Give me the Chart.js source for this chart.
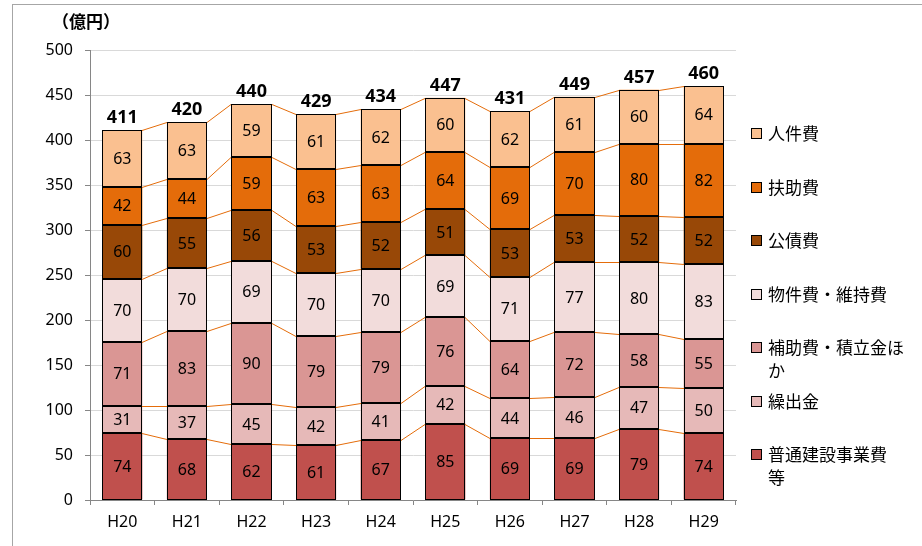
<!DOCTYPE html>
<html>
<head>
<meta charset="utf-8">
<script src="https://cdn.jsdelivr.net/npm/chart.js@4/dist/chart.umd.min.js"></script>
<style>
  html, body { margin: 0; padding: 0; background: #fff; overflow: hidden; }
  #wrap { position: relative; width: 922px; height: 546px; }
  #frame { position: absolute; left: 12px; top: 4px; width: 940px; height: 560px; border: 1px solid #a6a6a6; box-sizing: border-box; }
  canvas { position: absolute; left: 0; top: 0; }
</style>
</head>
<body>
<div id="wrap">
  <div id="frame"></div>
  <canvas id="costChart" width="922" height="546"></canvas>
</div>
<script>
// Categories (fiscal years) and series, bottom of stack first
const years = ['H20', 'H21', 'H22', 'H23', 'H24', 'H25', 'H26', 'H27', 'H28', 'H29'];
const construction = [74, 68, 62, 61, 67, 85, 69, 69, 79, 74]; // 普通建設事業費等
const transfers = [31, 37, 45, 42, 41, 42, 44, 46, 47, 50];    // 繰出金
const subsidies = [71, 83, 90, 79, 79, 76, 64, 72, 58, 55];    // 補助費・積立金ほか
const supplies = [70, 70, 69, 70, 70, 69, 71, 77, 80, 83];     // 物件費・維持費
const debt = [60, 55, 56, 53, 52, 51, 53, 53, 52, 52];         // 公債費
const welfare = [42, 44, 59, 63, 63, 64, 69, 70, 80, 82];      // 扶助費
const personnel = [63, 63, 59, 61, 62, 60, 62, 61, 60, 64];    // 人件費
const totals = [411, 420, 440, 429, 434, 447, 431, 449, 457, 460];
const yTicks = [0, 50, 100, 150, 200, 250, 300, 350, 400, 450, 500];
const unitLabel = '（億円）';

// legend lines, top to bottom (wrapped like the original)
const legendLines = [
    ['人件費'],
    ['扶助費'],
    ['公債費'],
    ['物件費・維持費'],
    ['補助費・積立金ほ', 'か'],
    ['繰出金'],
    ['普通建設事業費', '等'],
];

const numFont = "'Noto Sans', 'Noto Sans CJK JP', sans-serif";
const jpFont = "'Noto Sans CJK JP', 'Noto Sans', sans-serif";

// crisp black outline round each segment
const segmentOutlines = {
    id: 'segmentOutlines',
    afterDatasetsDraw(chart) {
        const ctx = chart.ctx;
        ctx.save();
        ctx.strokeStyle = '#000';
        ctx.lineWidth = 1;
        chart.data.datasets.forEach((ds, d) => {
            chart.getDatasetMeta(d).data.forEach(bar => {
                const l = Math.round(bar.x - bar.width / 2) + 0.5;
                const r = Math.round(bar.x + bar.width / 2) - 0.5;
                const t = Math.round(bar.y) + 0.5;
                const b = Math.round(bar.base) - 0.5;
                ctx.strokeRect(l, t, r - l, b - t);
            });
        });
        ctx.restore();
    }
};

// orange lines joining segment tops of neighbouring bars
const seriesLines = {
    id: 'seriesLines',
    afterDatasetsDraw(chart) {
        const ctx = chart.ctx;
        ctx.save();
        ctx.strokeStyle = '#e46c0a';
        ctx.lineWidth = 1;
        chart.data.datasets.forEach((ds, d) => {
            const meta = chart.getDatasetMeta(d);
            for (let i = 0; i < meta.data.length - 1; i++) {
                const a = meta.data[i], b = meta.data[i + 1];
                ctx.beginPath();
                ctx.moveTo(Math.round(a.x + a.width / 2), Math.round(a.y) + 0.5);
                ctx.lineTo(Math.round(b.x - b.width / 2), Math.round(b.y) + 0.5);
                ctx.stroke();
            }
        });
        ctx.restore();
    }
};

// values inside segments and totals above bars
const valueLabels = {
    id: 'valueLabels',
    afterDatasetsDraw(chart) {
        const ctx = chart.ctx;
        ctx.save();
        ctx.textAlign = 'center';
        ctx.textBaseline = 'middle';
        ctx.fillStyle = '#000';
        ctx.font = '16px ' + numFont;
        chart.data.datasets.forEach((ds, d) => {
            const meta = chart.getDatasetMeta(d);
            meta.data.forEach((bar, i) => {
                ctx.fillText(ds.data[i], bar.x, (bar.y + bar.base) / 2 + 1);
            });
        });
        const topMeta = chart.getDatasetMeta(chart.data.datasets.length - 1);
        ctx.font = 'bold 18px ' + numFont;
        ctx.textBaseline = 'alphabetic';
        topMeta.data.forEach((bar, i) => {
            ctx.fillText(totals[i], bar.x, bar.y - 7);
        });
        // unit label
        ctx.font = 'bold 17px ' + jpFont;
        ctx.textBaseline = 'middle';
        ctx.fillText(unitLabel, 86, 22);
        ctx.restore();
    }
};

// legend on the right, top series first
const sideLegend = {
    id: 'sideLegend',
    afterDraw(chart) {
        const ctx = chart.ctx;
        const sets = chart.data.datasets.slice().reverse();
        ctx.save();
        ctx.font = '17px ' + jpFont;
        ctx.textBaseline = 'middle';
        ctx.textAlign = 'left';
        sets.forEach((ds, k) => {
            const cy = Math.round(134 + k * 53.5);
            ctx.fillStyle = ds.backgroundColor;
            ctx.fillRect(751.5, cy - 5.5, 10, 10);
            ctx.strokeStyle = '#000';
            ctx.lineWidth = 1;
            ctx.strokeRect(751.5, cy - 5.5, 10, 10);
            ctx.fillStyle = '#000';
            legendLines[k].forEach((line, j) => {
                ctx.fillText(line, 768, cy + j * 23);
            });
        });
        ctx.restore();
    }
};

function series(label, data, color) {
    return {
        label: label,
        data: data,
        backgroundColor: color,
        borderWidth: 0,
        barPercentage: 0.62,
        categoryPercentage: 1,
    };
}

const ctx = document.getElementById('costChart').getContext('2d');
new Chart(ctx, {
    type: 'bar',
    data: {
        labels: years,
        datasets: [
            series('普通建設事業費等', construction, '#c0504d'),
            series('繰出金', transfers, '#e6b9b8'),
            series('補助費・積立金ほか', subsidies, '#da9694'),
            series('物件費・維持費', supplies, '#f2dcdb'),
            series('公債費', debt, '#984807'),
            series('扶助費', welfare, '#e46c0a'),
            series('人件費', personnel, '#fac090'),
        ],
    },
    options: {
        responsive: false,
        animation: false,
        layout: { padding: { left: 0, top: 50, right: 186, bottom: 0 } },
        plugins: {
            legend: { display: false },
            tooltip: { enabled: false },
        },
        scales: {
            x: {
                stacked: true,
                afterFit(scale) { scale.height = 46; },
                grid: {
                    offset: true,
                    drawOnChartArea: false,
                    tickLength: 5,
                    color: '#868686',
                },
                border: { color: '#868686' },
                ticks: {
                    padding: 8,
                    color: '#000',
                    font: { family: numFont, size: 16 },
                },
            },
            y: {
                stacked: true,
                min: 0,
                max: 500,
                afterFit(scale) { scale.width = 90; },
                afterBuildTicks(scale) { scale.ticks = yTicks.map(v => ({ value: v })); },
                grid: {
                    color: '#d9d9d9',
                    tickColor: '#868686',
                    tickLength: 5,
                },
                border: { color: '#868686' },
                ticks: {
                    padding: 12,
                    color: '#000',
                    font: { family: numFont, size: 16 },
                },
            },
        },
    },
    plugins: [segmentOutlines, seriesLines, valueLabels, sideLegend],
});
</script>
</body>
</html>
